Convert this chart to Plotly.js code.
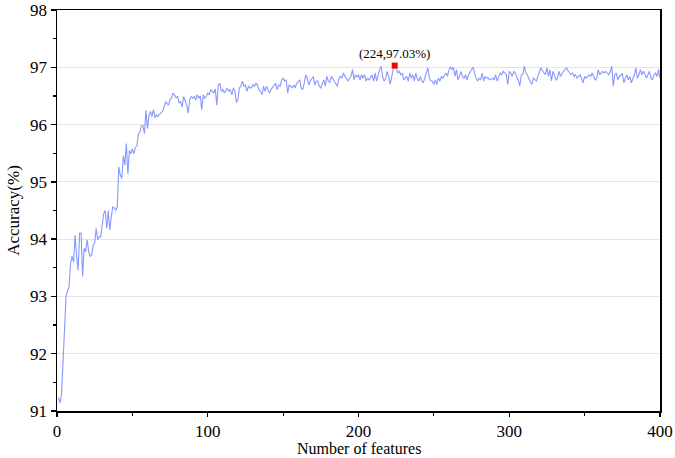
<!DOCTYPE html>
<html>
<head>
<meta charset="utf-8">
<script src="https://cdn.plot.ly/plotly-3.0.1.min.js"></script>
<style>html,body{margin:0;padding:0;background:#fff;}#chart{width:675px;height:458px;}</style>
</head>
<body>
<div id="chart"></div>
<script>
// Accuracy (%) for number of features 1..400
const accuracy = [
  91.23, 91.14, 91.29, 91.96, 92.48, 93.0, 93.1, 93.17, 93.58, 93.7,
  93.6, 94.07, 93.7, 93.46, 94.1, 94.1, 93.35, 93.84, 93.78, 93.99,
  93.78, 93.7, 93.72, 93.9, 93.93, 94.19, 93.99, 94.04, 94.04, 94.25,
  94.45, 94.5, 94.19, 94.5, 94.16, 94.39, 94.57, 94.54, 94.5, 94.57,
  95.26, 95.12, 95.06, 95.46, 95.29, 95.67, 95.14, 95.55, 95.49, 95.58,
  95.49, 95.6, 95.63, 95.84, 95.87, 95.98, 95.98, 95.84, 96.25, 95.93,
  96.16, 96.23, 96.14, 96.26, 96.12, 96.17, 96.14, 96.18, 96.20, 96.23,
  96.30, 96.40, 96.37, 96.34, 96.44, 96.47, 96.55, 96.50, 96.47, 96.49,
  96.38, 96.40, 96.31, 96.49, 96.42, 96.34, 96.20, 96.43, 96.49, 96.46,
  96.49, 96.43, 96.52, 96.46, 96.50, 96.26, 96.52, 96.46, 96.49, 96.55,
  96.52, 96.61, 96.58, 96.55, 96.62, 96.34, 96.69, 96.72, 96.58, 96.61,
  96.55, 96.61, 96.64, 96.58, 96.61, 96.52, 96.64, 96.58, 96.38, 96.44,
  96.64, 96.67, 96.76, 96.67, 96.69, 96.58, 96.67, 96.64, 96.64, 96.70,
  96.67, 96.72, 96.69, 96.61, 96.58, 96.52, 96.67, 96.58, 96.67, 96.61,
  96.55, 96.61, 96.66, 96.69, 96.72, 96.61, 96.69, 96.67, 96.78, 96.81,
  96.76, 96.78, 96.55, 96.69, 96.67, 96.64, 96.69, 96.64, 96.72, 96.76,
  96.78, 96.64, 96.61, 96.72, 96.87, 96.81, 96.69, 96.76, 96.81, 96.84,
  96.69, 96.76, 96.76, 96.67, 96.64, 96.73, 96.78, 96.67, 96.84, 96.76,
  96.73, 96.84, 96.80, 96.76, 96.70, 96.67, 96.81, 96.84, 96.81, 96.90,
  96.84, 96.81, 96.76, 96.81, 96.84, 96.96, 96.78, 96.87, 96.83, 96.87,
  96.78, 96.87, 96.81, 96.87, 96.76, 96.81, 96.78, 96.82, 96.87, 96.76,
  96.90, 96.76, 96.87, 96.96, 97.02, 96.84, 96.76, 96.80, 96.93, 96.84,
  96.70, 96.87, 96.96, 97.03, 96.99, 96.90, 96.93, 96.87, 96.90, 96.78,
  96.82, 96.84, 96.76, 96.90, 96.81, 96.87, 96.76, 96.90, 96.80, 96.76,
  96.84, 96.76, 96.73, 96.81, 96.87, 96.99, 96.81, 96.76, 96.76, 96.70,
  96.78, 96.70, 96.81, 96.76, 96.84, 96.81, 96.86, 96.90, 96.84, 96.96,
  97.01, 96.96, 97.00, 96.84, 96.96, 96.78, 96.85, 96.93, 96.84, 96.81,
  96.87, 96.78, 96.87, 96.93, 96.96, 97.00, 96.90, 96.81, 96.76, 96.81,
  96.78, 96.90, 96.76, 96.84, 96.81, 96.81, 96.78, 96.80, 96.81, 96.78,
  96.87, 96.76, 96.84, 96.90, 96.87, 96.93, 96.90, 96.87, 96.70, 96.93,
  96.90, 96.84, 96.93, 96.90, 96.82, 96.78, 96.67, 96.87, 96.87, 97.02,
  96.90, 96.87, 96.80, 96.76, 96.70, 96.81, 96.78, 96.76, 96.84, 96.93,
  96.99, 96.94, 96.90, 96.87, 96.99, 96.84, 96.96, 96.76, 96.93, 96.85,
  96.78, 96.81, 96.93, 96.84, 96.90, 96.93, 96.96, 96.99, 96.94, 96.90,
  96.87, 96.90, 96.84, 96.87, 96.81, 96.84, 96.87, 96.80, 96.73, 96.84,
  96.81, 96.84, 96.87, 96.84, 96.90, 96.84, 96.78, 96.81, 96.96, 96.87,
  96.90, 96.93, 96.90, 96.93, 96.90, 96.87, 96.93, 97.02, 96.67, 96.87,
  96.90, 96.78, 96.84, 96.86, 96.90, 96.73, 96.81, 96.87, 96.78, 96.84,
  96.73, 96.80, 96.87, 96.99, 96.81, 96.87, 96.96, 96.87, 96.93, 96.88,
  96.81, 96.87, 96.93, 96.81, 96.78, 96.87, 96.90, 96.84, 96.96, 96.81
];
const features = accuracy.map((_, i) => i + 1);

const bestX = [224];
const bestY = [97.03];
const bestLabel = ["(224,97.03%)"];

const xTicks = [0, 100, 200, 300, 400];
const yTicks = [91, 92, 93, 94, 95, 96, 97, 98];

const font = "'Liberation Serif', 'Times New Roman', serif";

const traces = [
  {
    x: features, y: accuracy, type: "scatter", mode: "lines",
    line: {color: "#8798ff", width: 1.1}, hoverinfo: "x+y"
  },
  {
    x: bestX, y: bestY, type: "scatter", mode: "markers+text",
    marker: {symbol: "square", size: 6, color: "#ff0000", line: {width: 0}},
    text: bestLabel, textposition: "top center",
    textfont: {family: font, size: 13, color: "#000"}
  }
];

function tickFont() { return {family: font, size: 17, color: "#000"}; }

const layout = {
  width: 675, height: 458,
  margin: {l: 57, r: 15, t: 10, b: 47},
  paper_bgcolor: "#fff", plot_bgcolor: "#fff",
  font: {family: font, color: "#000"},
  showlegend: false,
  xaxis: {
    range: [0, 400], tickvals: xTicks, showgrid: false,
    showline: true, linecolor: "#000", linewidth: 1.5, mirror: true,
    ticks: "outside", ticklen: 4, tickwidth: 1.3, tickcolor: "#000",
    tickfont: tickFont(), ticklabeloverflow: "allow",
    zeroline: false, automargin: false, fixedrange: true,
    minor: {dtick: 50, tick0: 0, ticks: "outside", ticklen: 3, tickcolor: "#000", tickwidth: 1.2, showgrid: false}
  },
  yaxis: {
    range: [91, 98], tickvals: yTicks, showgrid: true, gridcolor: "#e4e4e4", gridwidth: 1,
    showline: true, linecolor: "#000", linewidth: 1.5, mirror: true,
    ticks: "outside", ticklen: 5, tickwidth: 1.3, tickcolor: "#000",
    tickfont: tickFont(), ticklabeloverflow: "allow",
    zeroline: false, automargin: false, fixedrange: true,
    minor: {dtick: 0.5, tick0: 91, ticks: "outside", ticklen: 3, tickcolor: "#000", tickwidth: 1.2, showgrid: false},
    title: {text: "Accuracy(%)", font: {family: font, size: 17, color: "#000"}, standoff: 6}
  },
  annotations: [{
    text: "Number of features", xref: "paper", yref: "paper", x: 0.5, y: 0,
    xanchor: "center", yanchor: "top", yshift: -27, showarrow: false,
    font: {family: font, size: 16, color: "#000"}
  }]
};

Plotly.newPlot("chart", traces, layout, {displayModeBar: false, staticPlot: true});
</script>
</body>
</html>
